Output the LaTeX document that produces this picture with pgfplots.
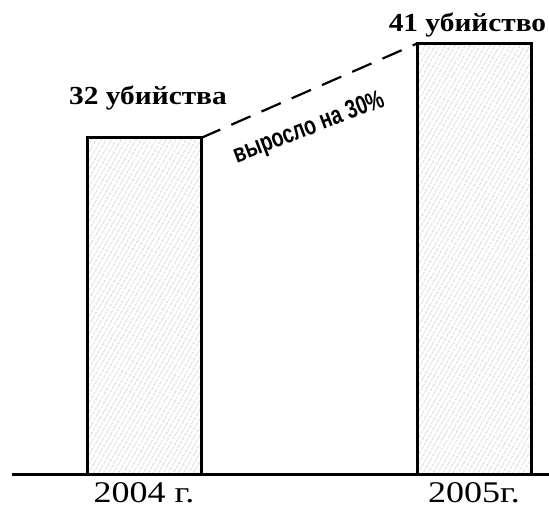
\documentclass[border=0pt]{standalone}
\usepackage{fontspec}
\setmainfont{Liberation Serif}
\newfontfamily\labelfont[FakeStretch=1.2]{Liberation Serif}
\newfontfamily\boldlabel[FakeStretch=1.13]{Liberation Serif}
\newfontfamily\annfont[FakeStretch=0.75]{Liberation Sans}
\usepackage{pgfplots}
\pgfplotsset{compat=1.18}
\usetikzlibrary{patterns.meta}
\begin{document}
\begin{tikzpicture}
\useasboundingbox (0,0) rectangle (549pt,515pt);
\begin{axis}[at={(12pt,41pt)}, anchor=south west, scale only axis,
  width=537pt, height=474pt,
  xmin=-0.4, xmax=1.227, ymin=0, ymax=45.14,
  axis x line=bottom, axis y line=none,
  axis line style={line width=3pt,-},
  xtick={0,1}, xticklabels={2004 г., 2005г.}, major tick length=0pt,
  xticklabel style={font=\labelfont\fontsize{30}{32}\selectfont, yshift=-5pt},
  clip=false]
\addplot[ybar, bar width=114pt, draw=black, line width=3pt,
  pattern={Lines[angle=60, distance=4pt, line width=0.6pt]}, pattern color=gray!55] coordinates {(0,32) (1,41)};
\addplot[sharp plot, no marks, black, line width=2.2pt, dash pattern=on 21pt off 12pt]
  coordinates {(0.1727,32) (0.8273,41)};
\node[font=\boldlabel\bfseries\fontsize{26}{30}\selectfont, anchor=base] at (axis cs:0.012,35.2) {32 убийства};
\node[font=\boldlabel\bfseries\fontsize{26}{30}\selectfont, anchor=base] at (axis cs:0.98,42.1) {41 убийство};
\node[font=\annfont\bfseries\fontsize{26}{28}\selectfont, rotate=21] at (axis cs:0.5,32.9) {выросло на 30\%};
\end{axis}
\end{tikzpicture}
\end{document}
